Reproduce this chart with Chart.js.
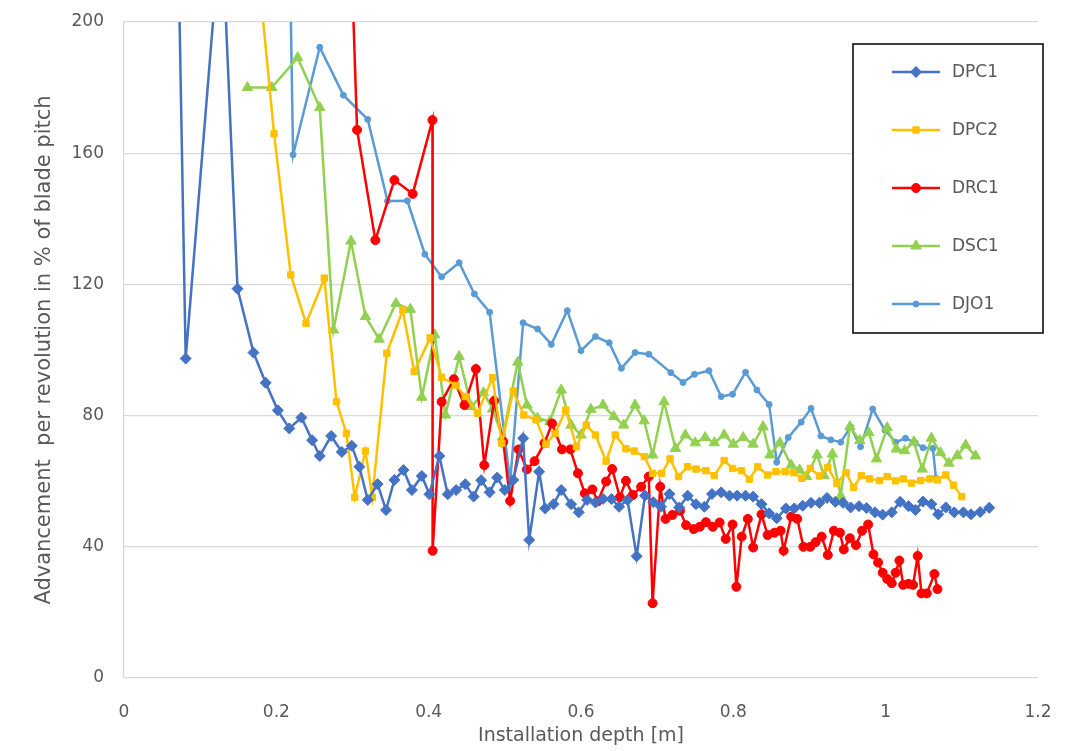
<!DOCTYPE html>
<html lang="en">
<head>
<meta charset="UTF-8">
<script src="https://cdn.jsdelivr.net/npm/chart.js"></script>
<style>
  body { margin: 0; background: #fff; }
</style>
</head>
<body>
<canvas id="myChart" width="1068" height="751"></canvas>
<script>
// installation depth [m] and advancement [% of blade pitch]
const dpc1Depth = [0.064,0.081,0.128,0.149,0.170,0.186,0.202,0.217,0.233,0.247,0.257,0.272,0.286,0.299,0.309,0.320,0.333,0.344,0.355,0.367,0.378,0.391,0.401,0.414,0.425,0.436,0.448,0.459,0.469,0.480,0.490,0.500,0.511,0.524,0.532,0.545,0.553,0.564,0.574,0.587,0.597,0.608,0.619,0.629,0.640,0.650,0.661,0.673,0.684,0.695,0.705,0.716,0.729,0.740,0.751,0.762,0.772,0.784,0.795,0.805,0.816,0.826,0.837,0.847,0.857,0.869,0.880,0.891,0.902,0.913,0.923,0.934,0.944,0.954,0.965,0.975,0.986,0.996,1.008,1.019,1.030,1.039,1.049,1.060,1.069,1.079,1.090,1.102,1.112,1.124,1.136]
const dpc1Value = [315,97.4,232,118.7,99.2,90.0,81.6,76.1,79.4,72.5,67.7,73.8,68.9,70.8,64.4,54.3,59.1,51.2,60.4,63.4,57.3,61.6,56.0,67.7,56.0,57.3,59.1,55.3,60.3,56.6,61.1,57.3,60.4,73.1,42.1,62.9,51.7,53.0,57.3,53.0,50.5,54.3,53.5,54.6,54.6,52.2,54.3,37.1,55.6,53.6,52.2,56.1,52.0,55.6,53.0,52.2,56.1,56.6,55.6,55.6,55.6,55.3,53.0,50.2,48.7,51.7,51.7,52.5,53.4,53.4,54.9,53.7,53.4,52.0,52.4,51.8,50.5,49.8,50.5,53.7,52.4,51.2,53.8,53.0,49.9,52.0,50.5,50.5,49.9,50.6,51.9]

const dpc2Depth = [0.177,0.197,0.219,0.239,0.263,0.279,0.292,0.303,0.317,0.326,0.345,0.366,0.381,0.402,0.417,0.436,0.448,0.464,0.484,0.496,0.511,0.525,0.541,0.554,0.566,0.580,0.594,0.607,0.619,0.633,0.645,0.659,0.670,0.683,0.694,0.706,0.717,0.728,0.740,0.751,0.764,0.775,0.788,0.799,0.811,0.821,0.832,0.845,0.856,0.868,0.879,0.890,0.901,0.913,0.924,0.936,0.948,0.958,0.968,0.979,0.992,1.002,1.013,1.023,1.034,1.046,1.058,1.068,1.079,1.089,1.100]
const dpc2Value = [214,165.9,122.9,108.1,121.9,84.2,74.6,55.1,69.2,55.1,99.0,112.2,93.4,103.7,91.7,89.2,85.8,80.7,91.6,71.6,87.5,80.2,78.7,71.3,74.6,81.7,70.5,77.1,74.1,66.1,74.1,69.9,69.2,67.5,62.4,62.4,66.8,61.4,64.4,63.7,63.2,61.7,66.3,63.9,63.2,60.6,64.4,61.9,62.9,62.9,62.6,60.9,63.9,61.6,64.2,59.4,62.6,58.1,61.7,60.7,60.2,61.4,60.1,60.7,59.4,60.2,60.7,60.4,61.9,58.8,55.3]

const drc1Depth = [0.283,0.306,0.330,0.355,0.379,0.405,0.4052,0.417,0.433,0.447,0.462,0.473,0.486,0.498,0.507,0.518,0.529,0.539,0.552,0.562,0.575,0.586,0.596,0.605,0.615,0.622,0.633,0.641,0.651,0.659,0.668,0.679,0.689,0.694,0.704,0.711,0.720,0.730,0.738,0.748,0.756,0.764,0.773,0.782,0.790,0.799,0.804,0.811,0.819,0.826,0.837,0.845,0.854,0.862,0.866,0.876,0.884,0.892,0.901,0.908,0.916,0.924,0.932,0.940,0.945,0.953,0.961,0.969,0.977,0.984,0.990,0.996,1.002,1.008,1.013,1.018,1.023,1.030,1.036,1.042,1.047,1.054,1.064,1.068]
const drc1Value = [330,167.1,133.5,151.8,147.6,170.1,38.8,84.2,91.1,83.2,94.2,64.9,84.5,72.0,54.0,69.7,63.6,66.1,71.6,77.6,69.7,69.7,62.4,56.3,57.5,53.9,59.9,63.7,55.1,60.1,55.8,58.3,61.4,22.8,58.3,48.5,49.7,51.0,46.6,45.4,46.1,47.5,46.1,47.4,42.4,46.8,27.8,43.1,48.5,39.8,49.9,43.6,44.3,44.9,38.8,49.2,48.5,40.0,40.0,41.4,43.1,37.5,44.9,44.3,39.2,42.6,40.5,44.9,46.8,37.7,35.2,32.1,30.2,28.9,32.1,35.8,28.4,28.7,28.4,37.2,25.8,25.8,31.7,27.1]

const dsc1Depth = [0.162,0.194,0.228,0.257,0.275,0.298,0.317,0.335,0.357,0.376,0.391,0.408,0.422,0.440,0.456,0.472,0.484,0.497,0.517,0.529,0.543,0.559,0.574,0.587,0.600,0.613,0.629,0.643,0.656,0.671,0.683,0.694,0.709,0.724,0.737,0.750,0.763,0.775,0.788,0.800,0.813,0.826,0.839,0.848,0.861,0.876,0.887,0.896,0.910,0.919,0.930,0.941,0.953,0.966,0.978,0.988,1.002,1.014,1.025,1.037,1.048,1.060,1.072,1.083,1.094,1.105,1.118]
const dsc1Value = [180.0,180.0,189.1,173.9,106.1,133.2,110.2,103.3,114.2,112.4,85.6,104.6,80.2,98.0,82.7,87.0,82.0,73.4,96.3,83.2,79.2,78.2,87.8,77.1,74.1,81.9,83.2,79.7,77.1,83.2,78.4,68.0,84.2,70.0,74.1,71.7,73.3,71.7,74.1,71.3,73.3,71.3,76.6,68.0,71.7,64.9,63.4,61.4,68.0,61.7,68.3,55.5,76.6,72.4,74.8,66.8,76.3,69.8,69.3,72.0,63.7,73.1,68.7,65.5,67.8,71.0,67.7]

const djo1Depth = [0.212,0.222,0.257,0.288,0.320,0.346,0.372,0.395,0.417,0.440,0.460,0.480,0.507,0.524,0.543,0.561,0.582,0.600,0.619,0.637,0.653,0.671,0.689,0.718,0.734,0.749,0.768,0.784,0.799,0.816,0.831,0.847,0.857,0.872,0.889,0.902,0.915,0.928,0.941,0.954,0.967,0.983,0.999,1.013,1.026,1.039,1.049,1.062,1.066]
const djo1Value = [300,159.5,192.3,177.7,170.3,145.4,145.5,129.2,122.3,126.6,117.1,111.5,59.8,108.3,106.4,101.7,112.0,99.8,104.1,102.2,94.4,99.2,98.7,93.1,90.1,92.6,93.7,85.8,86.5,93.2,87.8,83.4,65.8,73.3,78.0,82.2,73.8,72.6,71.9,76.6,70.5,82.0,75.6,71.9,73.1,71.7,70.2,70.0,60.9]

const seriesNames = ['DPC1', 'DPC2', 'DRC1', 'DSC1', 'DJO1']
const xTicks = [0, 0.2, 0.4, 0.6, 0.8, 1, 1.2]
const yTicks = [0, 40, 80, 120, 160, 200]

function pts(xs, ys) {
  return xs.map((x, i) => ({ x: x, y: ys[i] }))
}

const textColor = '#595959'
const font = '"DejaVu Sans", sans-serif'

function makeSet(label, data, color, style, radius) {
  return {
    label: label,
    data: data,
    borderColor: color,
    backgroundColor: color,
    borderWidth: 2.5,
    pointStyle: style,
    pointRadius: radius,
    pointHoverRadius: radius,
    pointBorderWidth: 1,
    tension: 0
  }
}

// legend in a framed box, drawn over the plot
const boxLegend = {
  id: 'boxLegend',
  afterDraw(chart) {
    const ctx = chart.ctx
    ctx.save()
    ctx.fillStyle = '#fff'
    ctx.fillRect(853, 44, 190, 289)
    ctx.strokeStyle = '#000'
    ctx.lineWidth = 1.5
    ctx.strokeRect(853, 44, 190, 289)
    chart.data.datasets.forEach((ds, i) => {
      const y = 72 + i * 58
      ctx.strokeStyle = ds.borderColor
      ctx.lineWidth = 2.5
      ctx.beginPath()
      ctx.moveTo(892, y)
      ctx.lineTo(940, y)
      ctx.stroke()
      ctx.fillStyle = ds.backgroundColor
      ctx.lineWidth = 1
      Chart.helpers.drawPoint(ctx, { pointStyle: ds.pointStyle, radius: ds.pointRadius, borderWidth: 1, rotation: 0 }, 916, y)
      ctx.fillStyle = textColor
      ctx.font = '17px ' + font
      ctx.textBaseline = 'middle'
      ctx.fillText(ds.label, 952, y + 1)
    })
    ctx.restore()
  }
}

const ctx = document.getElementById('myChart')
new Chart(ctx, {
  type: 'line',
  data: {
    datasets: [
      makeSet(seriesNames[0], pts(dpc1Depth, dpc1Value), '#4472C4', 'rectRot', 5.5),
      makeSet(seriesNames[1], pts(dpc2Depth, dpc2Value), '#FFC000', 'rect', 4.5),
      makeSet(seriesNames[2], pts(drc1Depth, drc1Value), '#FF0000', 'circle', 4.5),
      makeSet(seriesNames[3], pts(dsc1Depth, dsc1Value), '#92D050', 'triangle', 6),
      makeSet(seriesNames[4], pts(djo1Depth, djo1Value), '#5B9BD5', 'circle', 3)
    ]
  },
  options: {
    responsive: false,
    animation: false,
    layout: { padding: { left: 0, right: 30, top: 22, bottom: 0 } },
    plugins: {
      legend: { display: false },
      tooltip: { enabled: false }
    },
    scales: {
      x: {
        type: 'linear',
        min: 0,
        max: 1.2,
        afterBuildTicks(axis) { axis.ticks = xTicks.map(v => ({ value: v })) },
        afterFit(axis) {
          axis.height = 73
          axis.paddingLeft = 0
          axis.paddingRight = 0
        },
        grid: { display: false, drawTicks: false },
        border: { display: false },
        ticks: {
          padding: 24,
          color: textColor,
          font: { family: font, size: 17 },
          callback: v => String(+v.toFixed(1))
        },
        title: {
          display: true,
          text: 'Installation depth [m]',
          color: textColor,
          font: { family: font, size: 19 },
          padding: { top: 0, bottom: 4 }
        }
      },
      y: {
        min: 0,
        max: 200,
        afterBuildTicks(axis) { axis.ticks = yTicks.map(v => ({ value: v })) },
        afterFit(axis) {
          axis.width = 124
          axis.paddingTop = 0
          axis.paddingBottom = 0
        },
        grid: { color: '#d9d9d9', lineWidth: 1.3, drawTicks: false },
        border: { display: true, color: '#d9d9d9', width: 1.3 },
        ticks: {
          padding: 20,
          color: textColor,
          font: { family: font, size: 17 }
        },
        title: {
          display: true,
          text: 'Advancement  per revolution in % of blade pitch',
          color: textColor,
          font: { family: font, size: 21 },
          padding: { top: 32, bottom: 0 }
        }
      }
    }
  },
  plugins: [boxLegend]
})
</script>
</body>
</html>
